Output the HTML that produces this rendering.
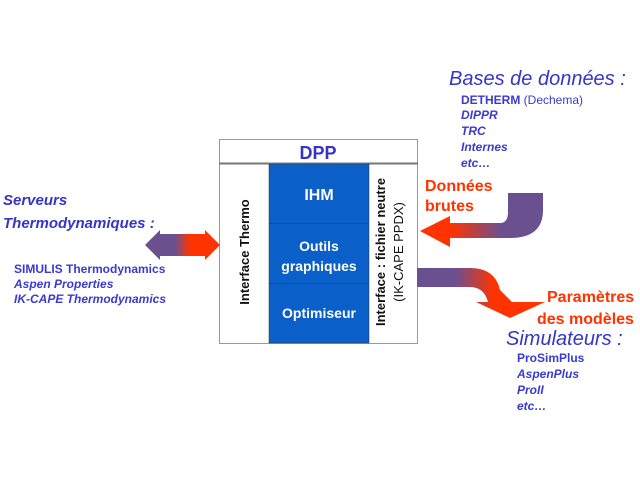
<!DOCTYPE html>
<html><head><meta charset="utf-8"><style>
html,body{margin:0;padding:0;background:#fff;width:640px;height:480px;overflow:hidden}
text{font-family:"Liberation Sans",sans-serif}
.b{fill:#3a3ad0;font-weight:bold;font-size:12px}
.bi{fill:#3a3ad0;font-weight:bold;font-style:italic;font-size:12px}
.h{fill:#3535c8;font-style:italic;font-size:20px}
.r{fill:#ff3300;font-weight:bold;font-size:16px}
</style></head><body>
<svg width="640" height="480" xmlns="http://www.w3.org/2000/svg">
<defs>
<linearGradient id="g1" x1="145" x2="220" y1="0" y2="0" gradientUnits="userSpaceOnUse">
<stop offset="0.4" stop-color="#6b5090"/><stop offset="0.6" stop-color="#ff3300"/></linearGradient>
<linearGradient id="g2" x1="420" x2="545" y1="0" y2="0" gradientUnits="userSpaceOnUse">
<stop offset="0.25" stop-color="#ff3300"/><stop offset="0.65" stop-color="#6b5090"/></linearGradient>
<linearGradient id="g3" x1="417" x2="545" y1="0" y2="0" gradientUnits="userSpaceOnUse">
<stop offset="0.3" stop-color="#6b5090"/><stop offset="0.6" stop-color="#ff3300"/></linearGradient>
</defs>
<rect x="219.5" y="139.5" width="198" height="204" fill="#fff" stroke="#999"/>
<line x1="219" y1="163.5" x2="418" y2="163.5" stroke="#777" stroke-width="2"/>
<text x="318" y="159" text-anchor="middle" fill="#3535c8" font-weight="bold" font-size="18">DPP</text>
<rect x="269" y="164" width="100" height="179" fill="#0a5fc8" stroke="#333" stroke-width="0.5"/>
<line x1="269" y1="223.5" x2="369" y2="223.5" stroke="#444"/>
<line x1="269" y1="283.5" x2="369" y2="283.5" stroke="#444"/>
<text x="319" y="200" text-anchor="middle" fill="#fff" font-weight="bold" font-size="16">IHM</text>
<text x="319" y="251" text-anchor="middle" fill="#fff" font-weight="bold" font-size="14">Outils</text>
<text x="319" y="271" text-anchor="middle" fill="#fff" font-weight="bold" font-size="14">graphiques</text>
<text x="319" y="318" text-anchor="middle" fill="#fff" font-weight="bold" font-size="14">Optimiseur</text>
<text transform="translate(249,252) rotate(-90)" text-anchor="middle" fill="#111" font-weight="bold" font-size="13">Interface Thermo</text>
<text transform="translate(385,252) rotate(-90)" text-anchor="middle" fill="#111" font-weight="bold" font-size="13">Interface : fichier neutre</text>
<text transform="translate(403,252) rotate(-90)" text-anchor="middle" fill="#111" font-size="13">(IK-CAPE PPDX)</text>
<polygon points="145,245 160,230 160,234 205,234 205,230 220,245 205,260 205,256 160,256 160,260" fill="url(#g1)"/>
<path d="M508,193 L543,193 L543,210 Q543,238 510,238 L450,238 L450,247 L420,231 L450,216 L450,223 L500,223 Q508,223 508,212 Z" fill="url(#g2)"/>
<path d="M417,268 L470,268 Q495,268 500,290 L512,302 L545,302 L510,318 L476,302 L488,302 Q484,287 470,287 L417,287 Z" fill="url(#g3)"/>
<text x="449" y="85" class="h">Bases de données :</text>
<text x="461" y="104" class="b">DETHERM <tspan font-weight="normal">(Dechema)</tspan></text>
<text x="461" y="119" class="bi">DIPPR</text>
<text x="461" y="135" class="bi">TRC</text>
<text x="461" y="151" class="bi" font-weight="normal">Internes</text>
<text x="461" y="167" class="bi" font-weight="normal">etc…</text>
<text x="425" y="191" class="r">Données</text>
<text x="425" y="211" class="r">brutes</text>
<text x="3" y="205" fill="#3535c8" font-style="italic" font-weight="bold" font-size="15">Serveurs</text>
<text x="3" y="228" fill="#3535c8" font-style="italic" font-weight="bold" font-size="15">Thermodynamiques :</text>
<text x="14" y="273" class="b">SIMULIS Thermodynamics</text>
<text x="14" y="288" class="bi">Aspen Properties</text>
<text x="14" y="303" class="bi">IK-CAPE Thermodynamics</text>
<text x="547" y="302" class="r" font-size="15">Paramètres</text>
<text x="537" y="324" class="r" font-size="15">des modèles</text>
<text x="506" y="345" class="h">Simulateurs :</text>
<text x="517" y="362" class="b">ProSimPlus</text>
<text x="517" y="378" class="bi">AspenPlus</text>
<text x="517" y="394" class="bi">ProII</text>
<text x="517" y="410" class="bi">etc…</text>
</svg>
</body></html>
